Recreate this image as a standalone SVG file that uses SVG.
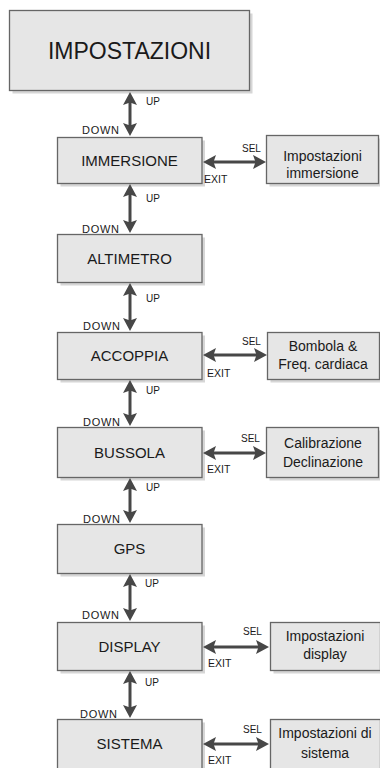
<svg xmlns="http://www.w3.org/2000/svg" width="380" height="768" viewBox="0 0 380 768">
<defs>
<style>
.sh{fill:#d6d6d6}
.bx{fill:#e6e6e6;stroke:#666;stroke-width:1.3}
.t{font-family:"Liberation Sans",Arial,sans-serif;fill:#1a1a1a;text-anchor:middle}
.m{font-size:15px}
.s{font-size:14px}
.l{font-family:"Liberation Sans",Arial,sans-serif;fill:#1a1a1a;font-size:10px}
.d{font-size:11px}
.e{font-size:10.5px}
.c{stroke:#474747;stroke-width:3;fill:none;marker-start:url(#ah);marker-end:url(#ah)}
</style>
<marker id="ah" viewBox="0 0 14 14" refX="5" refY="7" markerWidth="14" markerHeight="14" markerUnits="userSpaceOnUse" orient="auto-start-reverse">
<path d="M0,0 L13,7 L0,14 L2.5,7 z" fill="#474747"/>
</marker>
</defs>
<rect width="380" height="768" fill="#fff"/>

<g id="impostazioni">
<rect class="sh" x="12.5" y="13.5" width="240" height="80"/>
<rect class="bx" x="9.5" y="10.5" width="240" height="80"/>
<text class="t" x="129.5" y="59" font-size="23px">IMPOSTAZIONI</text>
</g>

<g id="immersione">
<rect class="sh" x="60.5" y="140.5" width="144.5" height="46"/>
<rect class="bx" x="57.5" y="137.5" width="144.5" height="46"/>
<text class="t m" x="129.5" y="166">IMMERSIONE</text>
</g>
<g id="imp-immersione">
<rect class="sh" x="269.5" y="138.5" width="112" height="48"/>
<rect class="bx" x="266.5" y="135.5" width="112" height="48"/>
<text class="t s" x="322.5" y="161">Impostazioni</text>
<text class="t s" x="322.5" y="178">immersione</text>
</g>

<g id="altimetro">
<rect class="sh" x="60.5" y="237.5" width="144.5" height="48"/>
<rect class="bx" x="57.5" y="234.5" width="144.5" height="48"/>
<text class="t m" x="129.5" y="264">ALTIMETRO</text>
</g>

<g id="accoppia">
<rect class="sh" x="60.5" y="335.5" width="144.5" height="47"/>
<rect class="bx" x="57.5" y="332.5" width="144.5" height="47"/>
<text class="t m" x="129.5" y="361">ACCOPPIA</text>
</g>
<g id="bombola">
<rect class="sh" x="270.5" y="335.5" width="112" height="47"/>
<rect class="bx" x="267.5" y="332.5" width="112" height="47"/>
<text class="t s" x="323" y="351">Bombola &amp;</text>
<text class="t s" x="323" y="369">Freq. cardiaca</text>
</g>

<g id="bussola">
<rect class="sh" x="60.5" y="430.5" width="144.5" height="50"/>
<rect class="bx" x="57.5" y="427.5" width="144.5" height="50"/>
<text class="t m" x="129.5" y="458">BUSSOLA</text>
</g>
<g id="calibrazione">
<rect class="sh" x="269.5" y="430.5" width="112" height="50"/>
<rect class="bx" x="266.5" y="427.5" width="112" height="50"/>
<text class="t s" x="323" y="448">Calibrazione</text>
<text class="t s" x="323" y="467">Declinazione</text>
</g>

<g id="gps">
<rect class="sh" x="60.5" y="527.5" width="144.5" height="49"/>
<rect class="bx" x="57.5" y="524.5" width="144.5" height="49"/>
<text class="t m" x="129.5" y="554">GPS</text>
</g>

<g id="display">
<rect class="sh" x="60.5" y="625.5" width="144.5" height="48"/>
<rect class="bx" x="57.5" y="622.5" width="144.5" height="48"/>
<text class="t m" x="129.5" y="652">DISPLAY</text>
</g>
<g id="imp-display">
<rect class="sh" x="273.5" y="625.5" width="110" height="48"/>
<rect class="bx" x="270.5" y="622.5" width="110" height="48"/>
<text class="t s" x="325" y="641">Impostazioni</text>
<text class="t s" x="325" y="659">display</text>
</g>

<g id="sistema">
<rect class="sh" x="60.5" y="722.5" width="144.5" height="60"/>
<rect class="bx" x="57.5" y="719.5" width="144.5" height="60"/>
<text class="t m" x="129.5" y="749">SISTEMA</text>
</g>
<g id="imp-sistema">
<rect class="sh" x="273.5" y="722.5" width="110" height="60"/>
<rect class="bx" x="270.5" y="719.5" width="110" height="60"/>
<text class="t s" x="325" y="738">Impostazioni di</text>
<text class="t s" x="325" y="758">sistema</text>
</g>

<g id="connectors">
<line class="c" x1="130" y1="100" x2="130" y2="128"/>
<line class="c" x1="130" y1="192" x2="130" y2="225"/>
<line class="c" x1="130" y1="291" x2="130" y2="323"/>
<line class="c" x1="130" y1="388" x2="130" y2="418"/>
<line class="c" x1="130" y1="486" x2="130" y2="515"/>
<line class="c" x1="130" y1="582" x2="130" y2="613"/>
<line class="c" x1="130" y1="679" x2="130" y2="710"/>
<line class="c" x1="211" y1="162" x2="258" y2="162"/>
<line class="c" x1="211" y1="355" x2="259" y2="355"/>
<line class="c" x1="211" y1="453" x2="258" y2="453"/>
<line class="c" x1="211" y1="647" x2="261" y2="647"/>
<line class="c" x1="211" y1="744" x2="261" y2="744"/>
</g>

<g id="labels">
<text class="l" x="146" y="105">UP</text>
<text class="l d" x="82" y="134" textLength="37">DOWN</text>
<text class="l" x="146" y="202">UP</text>
<text class="l d" x="82" y="233" textLength="37">DOWN</text>
<text class="l" x="146" y="302">UP</text>
<text class="l d" x="83" y="330" textLength="37">DOWN</text>
<text class="l" x="146" y="394">UP</text>
<text class="l d" x="83" y="426" textLength="37">DOWN</text>
<text class="l" x="146" y="491">UP</text>
<text class="l d" x="83" y="523" textLength="37">DOWN</text>
<text class="l" x="145" y="587">UP</text>
<text class="l d" x="82" y="619" textLength="37">DOWN</text>
<text class="l" x="145" y="686">UP</text>
<text class="l d" x="80" y="718" textLength="37">DOWN</text>
<text class="l" x="242" y="152">SEL</text>
<text class="l e" x="204" y="183">EXIT</text>
<text class="l" x="242" y="345">SEL</text>
<text class="l e" x="207" y="377">EXIT</text>
<text class="l" x="241" y="442">SEL</text>
<text class="l e" x="207" y="473">EXIT</text>
<text class="l" x="243" y="635">SEL</text>
<text class="l e" x="208" y="667">EXIT</text>
<text class="l" x="243" y="733">SEL</text>
<text class="l e" x="208" y="764">EXIT</text>
</g>
</svg>
